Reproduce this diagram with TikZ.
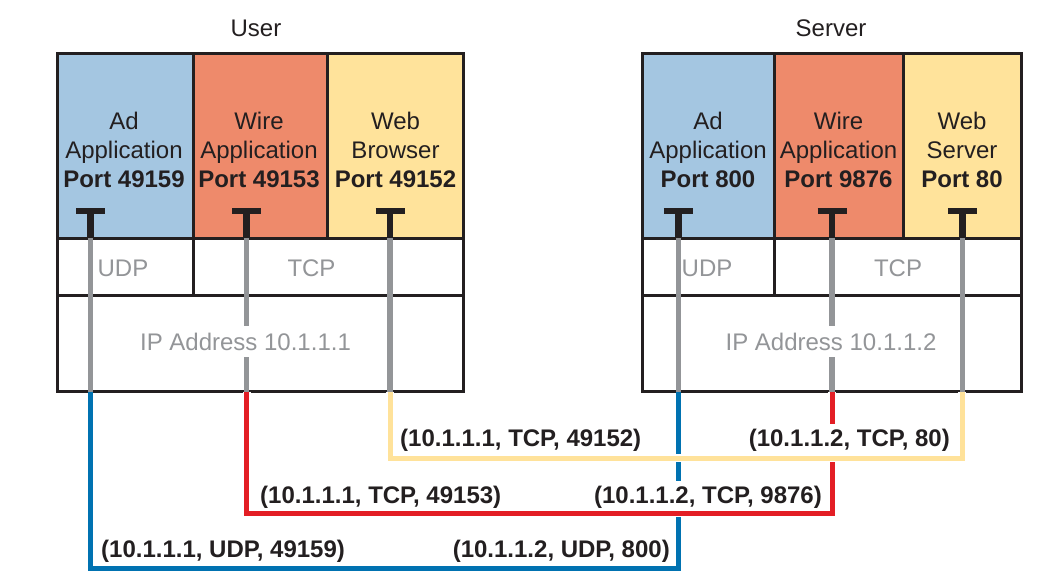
\documentclass[tikz,border=0pt]{standalone}
\usepackage{fontspec}
\setmainfont{Liberation Sans}
\definecolor{adblue}{HTML}{A4C6E1}
\definecolor{wiresal}{HTML}{EE8A6B}
\definecolor{webyel}{HTML}{FFE39B}
\definecolor{stemgray}{HTML}{939598}
\definecolor{txt}{HTML}{231F20}
\definecolor{wblue}{HTML}{0072B1}
\definecolor{wred}{HTML}{E31E25}
\definecolor{wyel}{HTML}{FFE29A}
\begin{document}
\begin{tikzpicture}[x=1pt,y=-1pt,
  cell/.style={draw=txt, line width=3pt, inner sep=0pt, minimum height=#1},
  cell/.default=185,
  apptext/.style={align=center, text=txt, font=\fontsize{24}{29}\selectfont, inner sep=0pt},
  graytext/.style={text=stemgray, font=\fontsize{24}{29}\selectfont, inner sep=0pt},
  iptext/.style={graytext, fill=white, inner xsep=3pt, inner ysep=7pt},
  title/.style={text=txt, font=\fontsize{24}{29}\selectfont, inner sep=0pt},
  tbar/.style={draw=txt, line width=6pt},
  tstem/.style={draw=txt, line width=6.5pt},
  graystem/.style={draw=stemgray, line width=5.5pt},
  wire/.style={line width=5pt, line join=miter},
  halo/.style={preaction={draw=white, line width=8pt}},
  lab/.style={text=txt, font=\bfseries\fontsize{24}{28}\selectfont, fill=white, inner xsep=2pt, inner ysep=5pt}
]
\useasboundingbox (0,0) rectangle (1038,582);

% titles
\node[title] (tUser) at (256,28) {User};
\node[title] (tServer) at (831,28) {Server};

% user cells
\node[cell, fill=adblue, minimum width=136] (uAd) at (125,145.5) {};
\node[cell, fill=wiresal, minimum width=134.5] (uWire) at (260.25,145.5) {};
\node[cell, fill=webyel, minimum width=135.5] (uWeb) at (395.25,145.5) {};
\node[cell=57, fill=white, minimum width=136] (uUDP) at (125,266.5) {};
\node[cell=57, fill=white, minimum width=270] (uTCP) at (328,266.5) {};
\node[cell=96.5, fill=white, minimum width=406] (uIP) at (260,343.25) {};

% server cells
\node[cell, fill=adblue, minimum width=132] (sAd) at (708,145.5) {};
\node[cell, fill=wiresal, minimum width=129.5] (sWire) at (838.75,145.5) {};
\node[cell, fill=webyel, minimum width=117.5] (sWeb) at (962.25,145.5) {};
\node[cell=57, fill=white, minimum width=132] (sUDP) at (708,266.5) {};
\node[cell=57, fill=white, minimum width=247] (sTCP) at (897.5,266.5) {};
\node[cell=96.5, fill=white, minimum width=379] (sIP) at (831.5,343.25) {};

% application texts
\node[apptext] (uAdT) at (124,149.5) {Ad\\Application\\\textbf{Port 49159}};
\node[apptext] (uWireT) at (259,149.5) {Wire\\Application\\\textbf{Port 49153}};
\node[apptext] (uWebT) at (395.5,149.5) {Web\\Browser\\\textbf{Port 49152}};
\node[apptext] (sAdT) at (708,149.5) {Ad\\Application\\\textbf{Port 800}};
\node[apptext] (sWireT) at (838.5,149.5) {Wire\\Application\\\textbf{Port 9876}};
\node[apptext] (sWebT) at (962,149.5) {Web\\Server\\\textbf{Port 80}};

% transport texts
\node[graytext] (uUDPT) at (123,268) {UDP};
\node[graytext] (uTCPT) at (311.5,268) {TCP};
\node[graytext] (sUDPT) at (707,268) {UDP};
\node[graytext] (sTCPT) at (898,268) {TCP};

% T symbols and gray stems
\foreach \n/\x in {uAd/90.7, uWire/246.7, uWeb/390, sAd/678.3, sWire/832, sWeb/962.3}{
  \coordinate (\n Top) at (\x,211);
  \coordinate (\n Mid) at (\x,238);
  \coordinate (\n Bot) at (\x,391.5);
  \draw[tbar] ([xshift=-14.5pt]\n Top) -- ([xshift=14.5pt]\n Top);
  \draw[tstem] (\n Top) -- (\n Mid);
  \draw[graystem] (\n Mid) -- (\n Bot);
}

% IP texts (cover the middle stem)
\node[iptext] (uIPT) at (245.5,341.5) {IP Address 10.1.1.1};
\node[iptext] (sIPT) at (831,341.5) {IP Address 10.1.1.2};

% bottom labels (UDP)
\node[lab, anchor=west] (L3) at (99,551) {(10.1.1.1, UDP, 49159)};
\node[lab, anchor=east] (R3) at (672,551) {(10.1.1.2, UDP, 800)};

% blue wire
\draw[wire, draw=wblue] (uAdBot) -- ++(0,176.5) -| (sAdBot);

% TCP labels
\node[lab, anchor=west] (L2) at (258,497) {(10.1.1.1, TCP, 49153)};
\node[lab, anchor=east] (R2) at (824,497) {(10.1.1.2, TCP, 9876)};
\node[lab, anchor=west] (L1) at (398,440) {(10.1.1.1, TCP, 49152)};

% red wire
\draw[wire, halo, draw=wred] (uWireBot) -- ++(0,121.5) -| (sWireBot);

\node[lab, anchor=east] (R1) at (952,440) {(10.1.1.2, TCP, 80)};

% yellow wire
\draw[wire, halo, draw=wyel] (uWebBot) -- ++(0,66.5) -| (sWebBot);
\end{tikzpicture}
\end{document}
